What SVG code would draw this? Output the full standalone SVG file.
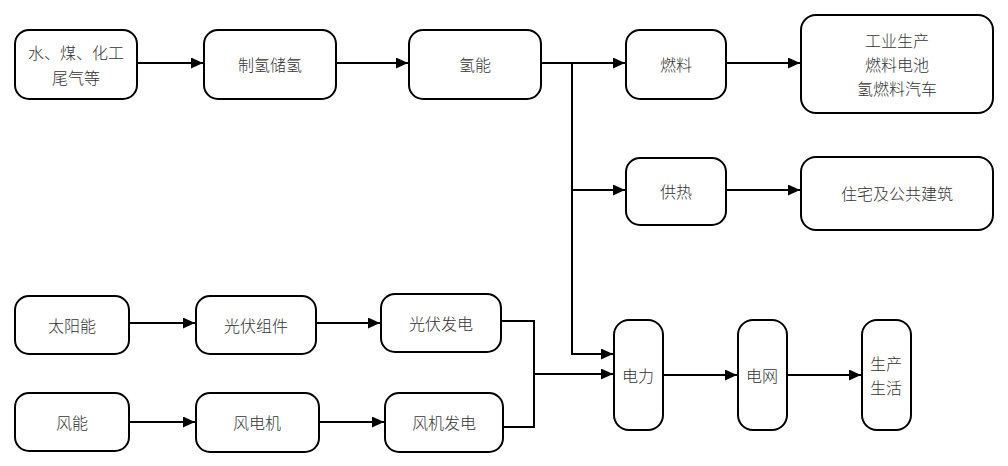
<svg xmlns="http://www.w3.org/2000/svg" width="1008" height="466" viewBox="0 0 1008 466">
<defs>
<style>
.n rect{fill:#fff;stroke:#000;stroke-width:2}
.n text{font-family:"Noto Sans CJK SC","Noto Sans",sans-serif;font-size:16px;font-weight:300;fill:#333;text-anchor:middle;dominant-baseline:central}
.c path{fill:none;stroke:#000;stroke-width:2}
</style>
<marker id="ah" markerUnits="userSpaceOnUse" markerWidth="14" markerHeight="14" viewBox="0 0 14 14" refX="12" refY="5.5" orient="auto">
<path d="M0,0 L12,5.5 L0,11 z" fill="#000"/>
</marker>
</defs>
<rect width="1008" height="466" fill="#fff"/>
<g class="c">
<path d="M137,63 H203" marker-end="url(#ah)"/>
<path d="M336,63 H408" marker-end="url(#ah)"/>
<path d="M541,63 H625" marker-end="url(#ah)"/>
<path d="M572,63 V354 H613" marker-end="url(#ah)"/>
<path d="M572,190 H625" marker-end="url(#ah)"/>
<path d="M726,63 H800" marker-end="url(#ah)"/>
<path d="M726,190 H800" marker-end="url(#ah)"/>
<path d="M129,323 H195" marker-end="url(#ah)"/>
<path d="M316,323 H380" marker-end="url(#ah)"/>
<path d="M501,321 H534 V427 H503"/>
<path d="M534,374 H613" marker-end="url(#ah)"/>
<path d="M129,422 H195" marker-end="url(#ah)"/>
<path d="M319,422 H384" marker-end="url(#ah)"/>
<path d="M663,375 H737" marker-end="url(#ah)"/>
<path d="M787,375 H861" marker-end="url(#ah)"/>
</g>
<g id="n1" class="n"><rect x="15" y="30" width="122" height="69" rx="14"/><text x="76" y="52">水、煤、化工</text><text x="76" y="77">尾气等</text></g>
<g id="n2" class="n"><rect x="204" y="30" width="132" height="69" rx="14"/><text x="270" y="64">制氢储氢</text></g>
<g id="n3" class="n"><rect x="409" y="30" width="132" height="69" rx="14"/><text x="475" y="64">氢能</text></g>
<g id="n4" class="n"><rect x="626" y="30" width="100" height="69" rx="14"/><text x="676" y="64">燃料</text></g>
<g id="n5" class="n"><rect x="801" y="15" width="192" height="98" rx="15"/><text x="897" y="40">工业生产</text><text x="897" y="64">燃料电池</text><text x="897" y="88">氢燃料汽车</text></g>
<g id="n6" class="n"><rect x="626" y="158" width="100" height="67" rx="14"/><text x="676" y="191">供热</text></g>
<g id="n7" class="n"><rect x="801" y="157" width="192" height="73" rx="15"/><text x="897" y="193">住宅及公共建筑</text></g>
<g id="n8" class="n"><rect x="15" y="296" width="114" height="58" rx="14"/><text x="72" y="325">太阳能</text></g>
<g id="n9" class="n"><rect x="196" y="296" width="120" height="58" rx="14"/><text x="256" y="325">光伏组件</text></g>
<g id="n10" class="n"><rect x="381" y="294" width="120" height="58" rx="14"/><text x="441" y="323">光伏发电</text></g>
<g id="n11" class="n"><rect x="15" y="393" width="114" height="58" rx="14"/><text x="72" y="422">风能</text></g>
<g id="n12" class="n"><rect x="196" y="393" width="123" height="59" rx="14"/><text x="257" y="422">风电机</text></g>
<g id="n13" class="n"><rect x="385" y="393" width="118" height="59" rx="14"/><text x="444" y="422">风机发电</text></g>
<g id="n14" class="n"><rect x="614" y="320" width="49" height="110" rx="15"/><text x="638" y="375">电力</text></g>
<g id="n15" class="n"><rect x="738" y="320" width="49" height="110" rx="15"/><text x="762" y="375">电网</text></g>
<g id="n16" class="n"><rect x="862" y="320" width="49" height="110" rx="15"/><text x="886" y="363">生产</text><text x="886" y="387">生活</text></g>
</svg>
